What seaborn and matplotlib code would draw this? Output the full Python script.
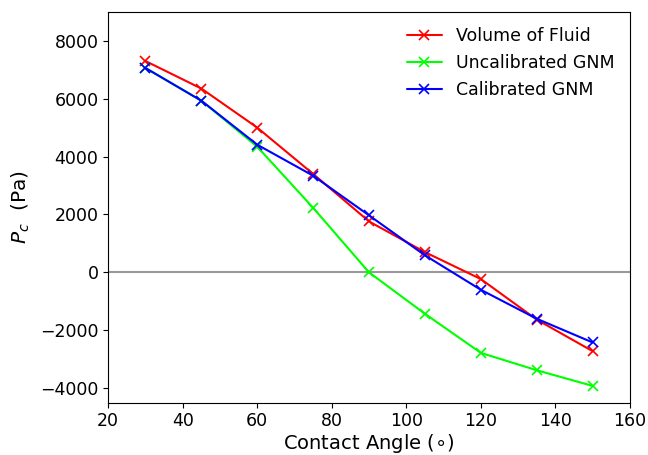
import matplotlib
matplotlib.use("Agg")
import matplotlib.pyplot as plt
import seaborn as sns
import pandas as pd

angles = [30, 45, 60, 75, 90, 105, 120, 135, 150]
vof = [7300, 6350, 5000, 3400, 1760, 700, -230, -1630, -2720]
uncal = [7060, 5930, 4340, 2230, 0, -1430, -2780, -3380, -3920]
cal = [7060, 5930, 4410, 3340, 1970, 590, -600, -1600, -2420]
names = ["Volume of Fluid", "Uncalibrated GNM", "Calibrated GNM"]
colors = ["#ff0000", "#00ff00", "#0000ff"]

rows = []
for name, vals in zip(names, [vof, uncal, cal]):
    for a, v in zip(angles, vals):
        rows.append({"angle": a, "pc": v, "series": name})
df = pd.DataFrame(rows)

sns.set_style("ticks")
plt.rcParams['font.family'] = ['DejaVu Sans']
plt.rcParams['text.color'] = 'black'
plt.rcParams['axes.labelcolor'] = 'black'
plt.rcParams['xtick.color'] = 'black'
plt.rcParams['ytick.color'] = 'black'
fig, ax = plt.subplots(figsize=(6.48, 4.55), dpi=100)
fig.subplots_adjust(left=0.167, right=0.972, top=0.974, bottom=0.115)

ax.axhline(0, color="#999999", lw=1.5, zorder=0)
sns.lineplot(data=df, x="angle", y="pc", hue="series", hue_order=names,
             palette=colors, marker="x", markersize=6.5, markeredgewidth=1.2,
             lw=1.5, ax=ax)
for line, c in zip(ax.get_lines()[1:], colors):
    line.set_markeredgecolor(c)

ax.set_xlim(20, 160)
ax.set_ylim(-4500, 9000)
ax.set_xticks(range(20, 161, 20))
ax.set_yticks(range(-4000, 8001, 2000))
ax.tick_params(labelsize=12.5, direction="out", length=3.5, width=0.8)
ax.set_xlabel("Contact Angle ($\\circ$)", fontsize=14, labelpad=1)
ax.set_ylabel("$P_c$  (Pa)", fontsize=14.5, labelpad=6)
for s in ax.spines.values():
    s.set_visible(True)
    s.set_color("black")
    s.set_linewidth(0.8)
leg = ax.legend(frameon=False, fontsize=12.5, loc="upper right")
for h, c in zip(leg.legend_handles, colors):
    h.set_color(c)
    h.set_markeredgecolor(c)
fig.savefig("out.png", dpi=100)
